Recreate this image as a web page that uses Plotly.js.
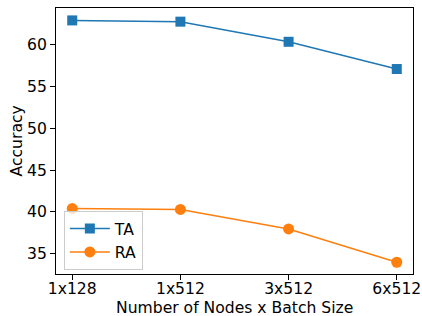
<!DOCTYPE html>
<html>
<head>
<meta charset="utf-8">
<script src="https://cdn.plot.ly/plotly-3.0.1.min.js"></script>
<style>html,body{margin:0;padding:0;background:#fff;}#chart{width:422px;height:316px;}</style>
</head>
<body>
<div id="chart"></div>
<script>
const categories = ["1x128", "1x512", "3x512", "6x512"];
const taValues = [62.85, 62.7, 60.3, 57.05];
const raValues = [40.4, 40.3, 37.97, 34.0];
const yTicks = [35, 40, 45, 50, 55, 60];
const xTitle = "Number of Nodes x Batch Size";
const yTitle = "Accuracy";

const font = {family: "DejaVu Sans", size: 15.6, color: "#000"};

const traces = [
  {x: [0,1,2,3], y: taValues, name: "TA", mode: "lines+markers",
   line: {color: "#1f77b4", width: 1.5},
   marker: {symbol: "square", size: 10, color: "#1f77b4"}},
  {x: [0,1,2,3], y: raValues, name: "RA", mode: "lines+markers",
   line: {color: "#ff7f0e", width: 1.5},
   marker: {symbol: "circle", size: 11, color: "#ff7f0e"}}
];

const layout = {
  width: 422, height: 316,
  margin: {l: 56, r: 9, t: 8, b: 42},
  paper_bgcolor: "#fff", plot_bgcolor: "#fff",
  font: font,
  showlegend: true,
  legend: {x: 0.022, y: 0.237, xanchor: "left", yanchor: "top",
           bgcolor: "rgba(255,255,255,0.8)", bordercolor: "#cccccc", borderwidth: 1,
           font: font, itemwidth: 40, tracegroupgap: 0},
  xaxis: {range: [-0.15, 3.15], tickmode: "array", tickvals: [0,1,2,3], ticktext: categories,
          showgrid: false, zeroline: false, showline: true, mirror: true, linecolor: "#000", linewidth: 1,
          ticks: "outside", ticklen: 5, tickcolor: "#000", tickfont: font, ticklabelstandoff: -5},
  yaxis: {range: [32.6, 64.33], tickmode: "array", tickvals: yTicks,
          showgrid: false, zeroline: false, showline: true, mirror: true, linecolor: "#000", linewidth: 1,
          ticks: "outside", ticklen: 5, tickcolor: "#000", tickfont: font},
  annotations: [
    {text: xTitle, xref: "paper", yref: "paper", x: 0.5, y: -0.128, xanchor: "center", yanchor: "middle",
     showarrow: false, font: font},
    {text: yTitle, xref: "paper", yref: "paper", x: -0.108, y: 0.5, xanchor: "center", yanchor: "middle",
     textangle: -90, showarrow: false, font: font}
  ]
};

Plotly.newPlot("chart", traces, layout, {displayModeBar: false, staticPlot: true});
</script>
</body>
</html>
